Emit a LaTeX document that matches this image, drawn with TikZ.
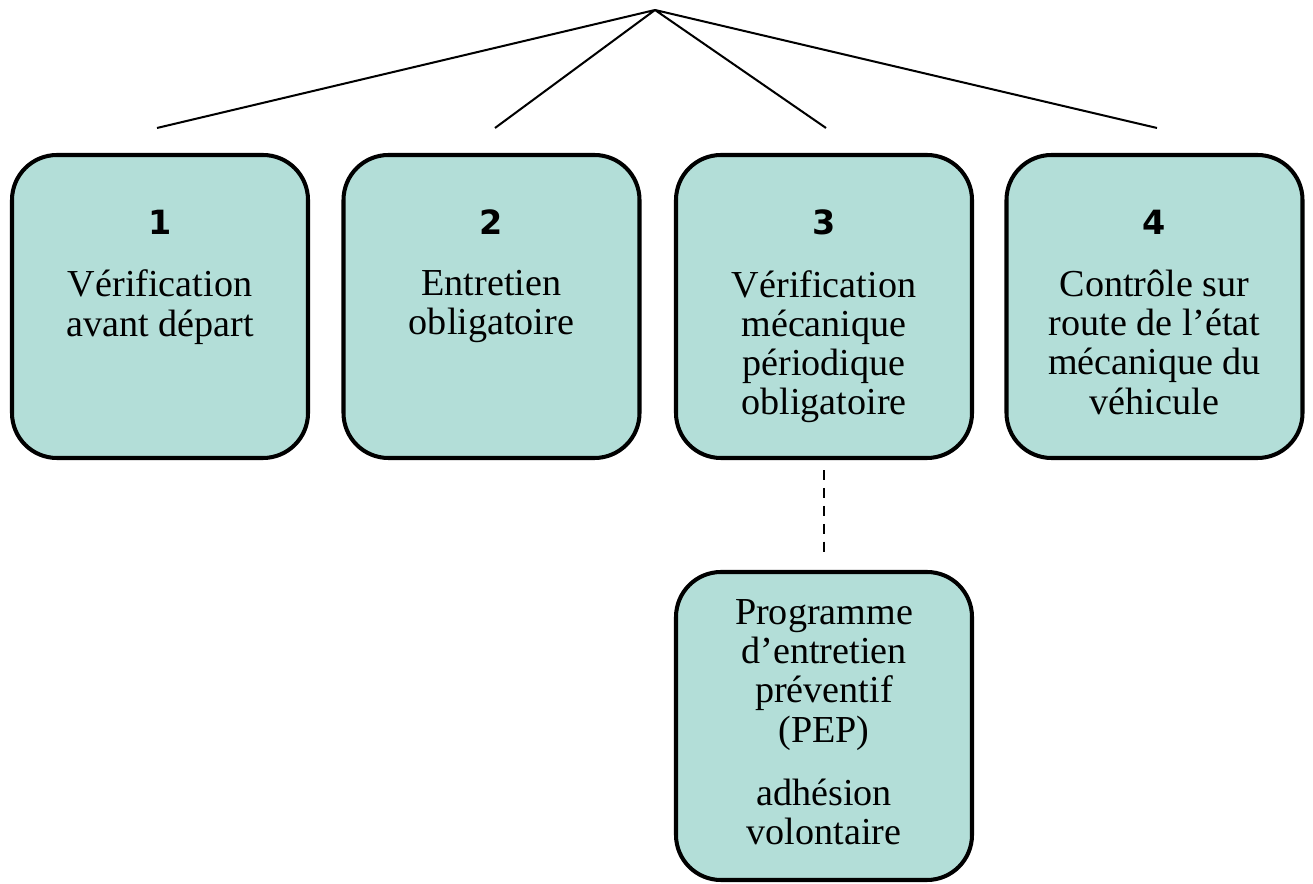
\documentclass[tikz,border=0pt]{standalone}
\usepackage{fontspec}
\setmainfont{Liberation Serif}
\newfontfamily\numfont{DejaVu Sans}
\usepackage{tikz}
\usetikzlibrary{positioning}
\usepackage{tkz-euclide}
\definecolor{vertpale}{RGB}{179,222,216}
\tikzset{etape/.style={draw,line width=2.3pt,fill=vertpale,rounded corners=0.9cm,
    minimum width=5.92cm,minimum height=6.06cm},
  numero/.style={inner sep=0pt,font=\numfont\bfseries\fontsize{19}{19}\selectfont},
  texte/.style={inner sep=0pt,align=center,font=\fontsize{21.7}{22.3}\selectfont}}

\begin{document}
\begin{tikzpicture}[semithick]
\useasboundingbox (0,0) rectangle (26.26,-17.68);
\tkzDefPoints{13.1/-0.2/S,3.14/-2.56/A,9.9/-2.56/B,16.52/-2.56/C,23.14/-2.56/D}
\draw[line width=1.15pt](S)--(A)(S)--(B)(S)--(C)(S)--(D);
% les quatre etapes
\node[etape] (b1) at (3.2,-6.13) {};
\node[etape] (b2) at (9.83,-6.13) {};
\node[etape] (b3) at (16.48,-6.13) {};
\node[etape] (b4) at (23.09,-6.13) {};
\node[etape,minimum height=6.16cm] (b5) at (16.48,-14.52) {};
\node[numero,anchor=base] (n1) at ([yshift=-1.64cm]b1.north) {1};
\node[numero,anchor=base] (n2) at ([yshift=-1.64cm]b2.north) {2};
\node[numero,anchor=base] (n3) at ([yshift=-1.64cm]b3.north) {3};
\node[numero,anchor=base] (n4) at ([yshift=-1.64cm]b4.north) {4};
\node[texte,below=0.68cm of n1] (t1) {Vérification\\avant départ};
\node[texte,below=0.68cm of n2] (t2) {Entretien\\obligatoire};
\node[texte,below=0.68cm of n3] (t3) {Vérification\\mécanique\\périodique\\obligatoire};
\node[texte,below=0.68cm of n4] (t4) {Contrôle sur\\route de l’état\\mécanique du\\véhicule};
\node[texte,below=0.58cm of b5.north] (t5) {Programme\\d’entretien\\préventif\\(PEP)\\[0.48cm]adhésion\\volontaire};
\draw[line width=1.15pt,dash pattern=on 5.7pt off 4.5pt]([yshift=-0.2cm]b3.south)--([yshift=0.36cm]b5.north);
\end{tikzpicture}
\end{document}
